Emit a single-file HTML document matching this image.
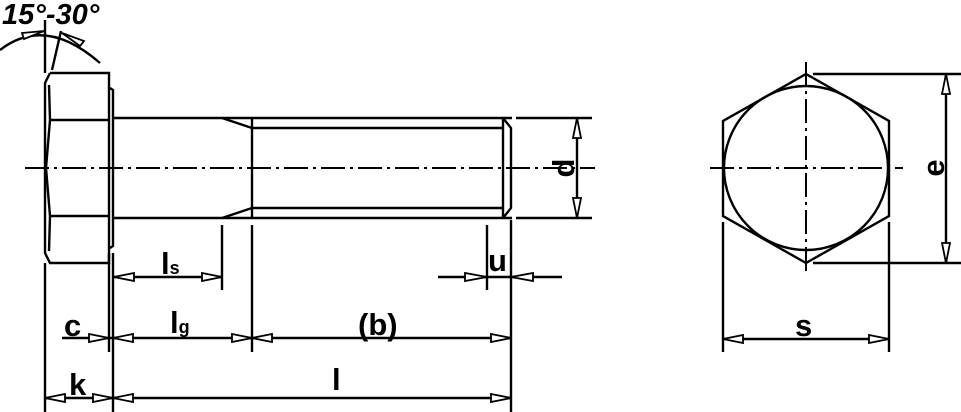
<!DOCTYPE html>
<html><head><meta charset="utf-8"><style>
html,body{margin:0;padding:0;background:#fff;}
svg{display:block;}
text{font-family:"Liberation Sans",sans-serif;font-weight:bold;fill:#000;}
</style></head><body>
<svg width="961" height="412" viewBox="0 0 961 412" xmlns="http://www.w3.org/2000/svg">
<g stroke="#000" stroke-width="2.4" fill="none">
<!-- head -->
<polyline points="50,73 109,73 109,263 50,263 45,253 45,83 50,73"/>
<path d="M49,85 L50,120 L46,168 L50,216 L49,251"/>
<line x1="50" y1="120" x2="109" y2="120"/>
<line x1="50" y1="216" x2="109" y2="216"/>
<polyline points="110,88 113,90 113,246 110,248"/>
<!-- shank -->
<line x1="114" y1="118" x2="512" y2="118"/>
<line x1="114" y1="218" x2="512" y2="218"/>
<line x1="222" y1="118" x2="252" y2="128"/>
<line x1="222" y1="218" x2="252" y2="208"/>
<line x1="252" y1="128" x2="503" y2="128"/>
<line x1="252" y1="208" x2="503" y2="208"/>
<line x1="252" y1="118" x2="252" y2="218"/>
<line x1="503" y1="118" x2="503" y2="218"/>
<polyline points="503,118 511,128 511,208 503,218"/>
<!-- d dim -->
<line x1="516" y1="118" x2="592" y2="118"/>
<line x1="516" y1="218" x2="592" y2="218"/>
<line x1="577" y1="118" x2="577" y2="218"/>
<!-- extension lines -->
<line x1="45" y1="263" x2="45" y2="412"/>
<line x1="109" y1="253" x2="109" y2="352"/>
<line x1="113" y1="253" x2="113" y2="412"/>
<line x1="222" y1="225" x2="222" y2="290"/>
<line x1="252" y1="225" x2="252" y2="352"/>
<line x1="487" y1="225" x2="487" y2="290"/>
<line x1="511" y1="220" x2="511" y2="412"/>
<!-- dim lines -->
<line x1="114" y1="277" x2="222" y2="277"/>
<line x1="438" y1="277" x2="562" y2="277"/>
<line x1="62" y1="338" x2="511" y2="338"/>
<line x1="45" y1="398" x2="511" y2="398"/>
<!-- angle -->
<line x1="45" y1="20" x2="45" y2="73"/>
<line x1="52" y1="70" x2="61" y2="31"/>
<path d="M0,50 Q45,15 100,63"/>
<!-- hex view -->
<polygon points="806,74 889,121 889,216 806,263 723,216 723,121"/>
<circle cx="806" cy="168" r="82"/>
<line x1="813" y1="74" x2="961" y2="74"/>
<line x1="813" y1="263" x2="961" y2="263"/>
<line x1="946" y1="74" x2="946" y2="263"/>
<line x1="723" y1="222" x2="723" y2="352"/>
<line x1="889" y1="222" x2="889" y2="352"/>
<line x1="723" y1="339" x2="889" y2="339"/>
</g>
<g stroke="#000" stroke-width="2" fill="none" stroke-dasharray="24,5,3,5">
<line x1="25" y1="168" x2="595" y2="168"/>
<line x1="710" y1="168" x2="903" y2="168"/>
<line x1="806" y1="62" x2="806" y2="272"/>
</g>
<g stroke="#000" stroke-width="1.8" fill="#fff">
<polygon points="114,277 134,273 134,281"/>
<polygon points="222,277 202,273 202,281"/>
<polygon points="487,277 465,273 465,281"/>
<polygon points="511,277 533,273 533,281"/>
<polygon points="109,338 89,334 89,342"/>
<polygon points="113,338 133,334 133,342"/>
<polygon points="252,338 232,334 232,342"/>
<polygon points="252,338 272,334 272,342"/>
<polygon points="511,338 491,334 491,342"/>
<polygon points="45,398 65,394 65,402"/>
<polygon points="113,398 93,394 93,402"/>
<polygon points="113,398 133,394 133,402"/>
<polygon points="511,398 491,394 491,402"/>
<polygon points="577,118 573,138 581,138"/>
<polygon points="577,218 573,198 581,198"/>
<polygon points="946,74 942,94 950,94"/>
<polygon points="946,263 942,243 950,243"/>
<polygon points="723,339 743,335 743,343"/>
<polygon points="889,339 869,335 869,343"/>
<polygon points="44,31 22,33 24,39"/>
<polygon points="62,33 84,41 80,46"/>
</g>
<g>
<text x="2" y="24" font-size="29" font-style="italic">15°-30°</text>
<text x="161" y="274" font-size="31">l<tspan font-size="18">s</tspan></text>
<text x="488" y="271" font-size="31">u</text>
<text x="64" y="336" font-size="31">c</text>
<text x="170" y="333" font-size="31">l<tspan font-size="18">g</tspan></text>
<text x="358" y="335" font-size="31">(b)</text>
<text x="69" y="395" font-size="31">k</text>
<text x="332" y="390" font-size="31">l</text>
<text x="795" y="336" font-size="31">s</text>
<text transform="translate(574,168) rotate(-90)" text-anchor="middle" font-size="31">d</text>
<text transform="translate(944,168) rotate(-90)" text-anchor="middle" font-size="31">e</text>
</g>
</svg>
</body></html>
